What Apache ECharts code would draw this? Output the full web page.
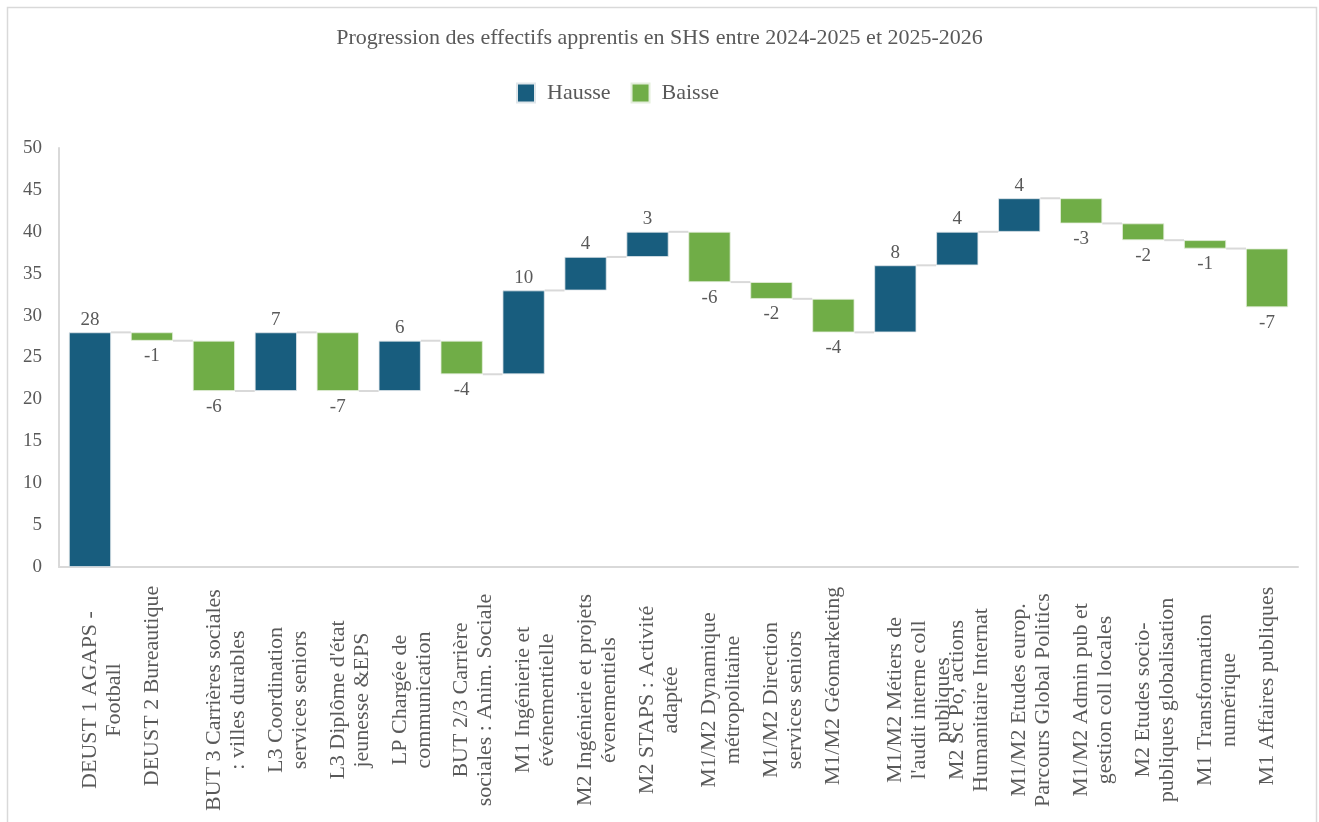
<!DOCTYPE html>
<html>
<head>
<meta charset="utf-8">
<title>Progression des effectifs apprentis</title>
<script src="https://cdn.jsdelivr.net/npm/echarts@6/dist/echarts.min.js"></script>
<style>
  html, body { margin: 0; padding: 0; background: #fff; }
  #chart { width: 1319px; height: 822px; }
</style>
</head>
<body>
<div id="chart"></div>
<script>
// formations (libellés tels que sur le graphique)
const categories = [
  "DEUST 1 AGAPS -\nFootball",
  "DEUST 2 Bureautique",
  "BUT 3 Carrières sociales\n: villes durables",
  "L3 Coordination\nservices seniors",
  "L3 Diplôme d'état\njeunesse &EPS",
  "LP Chargée de\ncommunication",
  "BUT 2/3 Carrière\nsociales : Anim. Sociale",
  "M1 Ingénierie et\névénementielle",
  "M2 Ingénierie et projets\névenementiels",
  "M2 STAPS : Activité\nadaptée",
  "M1/M2 Dynamique\nmétropolitaine",
  "M1/M2 Direction\nservices seniors",
  "M1/M2 Géomarketing",
  "M1/M2 Métiers de\nl'audit interne coll\npubliques",
  "M2 Sc Po, actions\nHumanitaire Internat",
  "M1/M2 Etudes europ.\nParcours Global Politics",
  "M1/M2 Admin pub et\ngestion coll locales",
  "M2 Etudes socio-\npubliques globalisation",
  "M1 Transformation\nnumérique",
  "M1 Affaires publiques"
];

// variation d'effectifs par formation
const deltas = [28, -1, -6, 7, -7, 6, -4, 10, 4, 3, -6, -2, -4, 8, 4, 4, -3, -2, -1, -7];

const yTicks = { min: 0, max: 50, interval: 5 };

const colorHausse = "#185d7e";
const colorBaisse = "#70ad47";
const textColor = "#595959";
const lineGray = "#d9d9d9";
const barRatio = 0.68;

// cumul -> base invisible + hausse / baisse
let totals = [];
let base = [];
let hausse = [];
let baisse = [];
let running = 0;
deltas.forEach(function (d) {
  const next = running + d;
  base.push(Math.min(running, next));
  hausse.push(d > 0 ? d : "-");
  baisse.push(d < 0 ? -d : "-");
  totals.push(next);
  running = next;
});

// traits de liaison entre les barres
let connectors = [];
for (let i = 0; i < totals.length - 1; i++) {
  connectors.push([i, totals[i]]);
}

const chart = echarts.init(document.getElementById("chart"));

const option = {
  backgroundColor: "#fff",
  textStyle: { fontFamily: "Liberation Serif", color: textColor },
  graphic: [
    {
      type: "rect",
      left: 5,
      top: 5,
      silent: true,
      shape: { width: 1309, height: 840 },
      style: { fill: "none", stroke: lineGray, lineWidth: 1.5 }
    }
  ],
  title: {
    text: "Progression des effectifs apprentis en SHS entre 2024-2025 et 2025-2026",
    left: "center",
    top: 22,
    textStyle: {
      fontFamily: "Liberation Serif",
      fontWeight: "normal",
      fontSize: 22,
      color: textColor
    }
  },
  legend: {
    left: 511,
    top: 77,
    itemWidth: 18,
    itemHeight: 19,
    itemGap: 20,
    icon: "rect",
    data: ["Hausse", "Baisse"],
    textStyle: {
      fontFamily: "Liberation Serif",
      fontSize: 22,
      color: textColor,
      padding: [0, 0, 0, 7]
    }
  },
  grid: {
    left: 59,
    right: 21,
    top: 148,
    bottom: 255,
    containLabel: false
  },
  xAxis: {
    type: "category",
    data: categories,
    axisTick: { show: false },
    axisLine: { lineStyle: { color: lineGray, width: 2 } },
    axisLabel: {
      interval: 0,
      rotate: 90,
      align: "center",
      margin: 133,
      fontSize: 22,
      lineHeight: 24,
      color: textColor,
      fontFamily: "Liberation Serif",
      // la 1re ligne est centrée sur la barre, les suivantes décalées (comme Excel)
      formatter: function (value) {
        const lines = value.split("\n");
        if (lines.length === 1) return "{s|" + value + "}";
        let pad = [];
        for (let k = 1; k < lines.length; k++) pad.push("");
        return pad.concat(lines.map(function (l) { return "{c|" + l + "}"; })).join("\n");
      },
      rich: {
        c: {
          align: "center",
          fontSize: 22,
          lineHeight: 24,
          color: textColor,
          fontFamily: "Liberation Serif"
        },
        s: {
          align: "center",
          fontSize: 22,
          lineHeight: 24,
          padding: [0, 0, 0, 28],
          color: textColor,
          fontFamily: "Liberation Serif"
        }
      }
    }
  },
  yAxis: {
    type: "value",
    min: yTicks.min,
    max: yTicks.max,
    interval: yTicks.interval,
    splitLine: { show: false },
    axisTick: { show: false },
    axisLine: { show: true, lineStyle: { color: lineGray, width: 2 } },
    axisLabel: {
      margin: 17,
      fontSize: 19,
      color: textColor,
      fontFamily: "Liberation Serif"
    }
  },
  series: [
    {
      name: "base",
      type: "bar",
      stack: "wf",
      barWidth: barRatio * 100 + "%",
      silent: true,
      itemStyle: { color: "transparent" },
      data: base
    },
    {
      name: "Hausse",
      type: "bar",
      stack: "wf",
      itemStyle: { color: colorHausse, borderColor: "#dfe6ea", borderWidth: 0.8 },
      label: {
        show: true,
        position: "top",
        distance: 3,
        fontSize: 19,
        color: textColor,
        fontFamily: "Liberation Serif"
      },
      data: hausse
    },
    {
      name: "Baisse",
      type: "bar",
      stack: "wf",
      itemStyle: { color: colorBaisse, borderColor: "#e3eedb", borderWidth: 0.8 },
      label: {
        show: true,
        position: "bottom",
        distance: 6,
        fontSize: 19,
        color: textColor,
        fontFamily: "Liberation Serif",
        formatter: function (p) {
          return "-" + p.value;
        }
      },
      data: baisse
    },
    {
      name: "liaison",
      type: "custom",
      silent: true,
      z: 1,
      renderItem: function (params, api) {
        const idx = api.value(0);
        const level = api.value(1);
        const p1 = api.coord([idx, level]);
        const p2 = api.coord([idx + 1, level]);
        const half = (api.size([1, 0])[0] * barRatio) / 2;
        return {
          type: "line",
          shape: { x1: p1[0] + half, y1: p1[1], x2: p2[0] - half, y2: p2[1] },
          style: { stroke: lineGray, lineWidth: 2 }
        };
      },
      data: connectors
    }
  ]
};

chart.setOption(option);
window.addEventListener("resize", function () {
  chart.resize();
});
</script>
</body>
</html>
